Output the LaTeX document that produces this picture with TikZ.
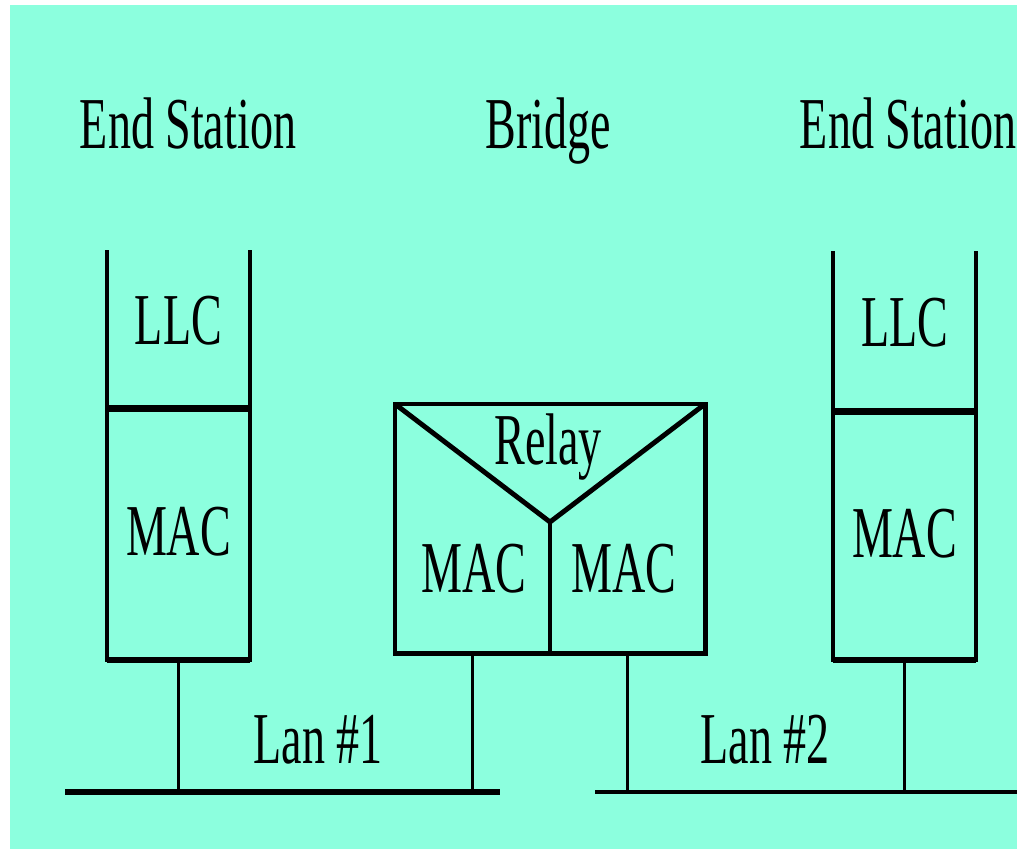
\documentclass[tikz,border=0pt]{standalone}
\usepackage{fontspec}
\setmainfont{Liberation Serif}[FakeStretch=0.63]
\usetikzlibrary{positioning, calc}
\definecolor{fondoAgua}{RGB}{140,255,222}

\begin{document}
\begin{tikzpicture}[
            x=0.025cm, y=-0.025cm,
            font=\fontsize{52}{58}\selectfont,
            capa/.style={minimum width=3.575cm, inner sep=0pt, outer sep=0pt, align=center},
            lado/.style={line width=2.8pt},
            division/.style={line width=5pt},
            base/.style={line width=4.2pt},
            enlace/.style={line width=1.7pt},
            titulo/.style={anchor=base, inner sep=0pt}
        ]

        % --- Fondo ---
        \useasboundingbox (0,0) rectangle (1017,849);
        \fill[white] (0,0) rectangle (1017,849);
        \fill[fondoAgua] (10,5) rectangle (1017,849);

        % --- Títulos ---
        \node[titulo] (tituloIzq) at (188,148) {End Station};
        \node[titulo] (tituloPuente) at (548,148) {Bridge};
        \node[titulo] (tituloDer) at (908,148) {End Station};

        % --- Estación izquierda ---
        \node[capa, draw, lado, minimum height=6.275cm, text depth=0.15cm] (macIzq) at (178.5,534.5) {MAC};
        \node[capa, minimum height=3.975cm, text depth=0.45cm, above=0pt of macIzq] (llcIzq) {LLC};
        \draw[lado] (llcIzq.south west) -- (llcIzq.north west);
        \draw[lado] (llcIzq.south east) -- (llcIzq.north east);
        \draw[division] (macIzq.north west) -- (macIzq.north east);
        \draw[base] (macIzq.south west) -- (macIzq.south east);

        % --- Estación derecha ---
        \node[capa, draw, lado, minimum height=6.2cm, text depth=0.15cm] (macDer) at (904.5,536) {MAC};
        \node[capa, minimum height=4.025cm, text depth=0.45cm, above=0pt of macDer] (llcDer) {LLC};
        \draw[lado] (llcDer.south west) -- (llcDer.north west);
        \draw[lado] (llcDer.south east) -- (llcDer.north east);
        \draw[division] (macDer.north west) -- (macDer.north east);
        \draw[base] (macDer.south west) -- (macDer.south east);

        % --- Puente ---
        \node[draw, line width=3.5pt, minimum width=7.75cm, minimum height=6.225cm, outer sep=0pt] (puente) at (550,528.5) {};
        \coordinate (vertice) at (550,522);
        \draw[line width=3.5pt, line join=miter] (puente.north west) -- (vertice) -- (puente.north east);
        \draw[lado] (vertice) -- (puente.south);
        \node[titulo] (relay) at (548,464) {Relay};
        \node[titulo] (macPuenteA) at (474,592) {MAC};
        \node[titulo] (macPuenteB) at (624,592) {MAC};

        % --- Redes LAN ---
        \coordinate (lan1a) at (65,792);
        \coordinate (lan1b) at (500,792);
        \coordinate (lan2a) at (595,792);
        \coordinate (lan2b) at (1017,792);
        \draw[line width=3.6pt] (lan1a) -- (lan1b);
        \draw[line width=2.4pt] (lan2a) -- (lan2b);
        \node[titulo] (lanUno) at (318,763) {Lan \#1};
        \node[titulo] (lanDos) at (765,763) {Lan \#2};

        % --- Conexiones ---
        \coordinate (salidaA) at ($(puente.south west)!0.25!(puente.south east)$);
        \coordinate (salidaB) at ($(puente.south west)!0.75!(puente.south east)$);
        \draw[enlace] (macIzq.south) -- (macIzq.south |- lan1a);
        \draw[enlace] (salidaA) -- (salidaA |- lan1a);
        \draw[enlace] (salidaB) -- (salidaB |- lan2a);
        \draw[enlace] (macDer.south) -- (macDer.south |- lan2a);

        \end{tikzpicture}
\end{document}
